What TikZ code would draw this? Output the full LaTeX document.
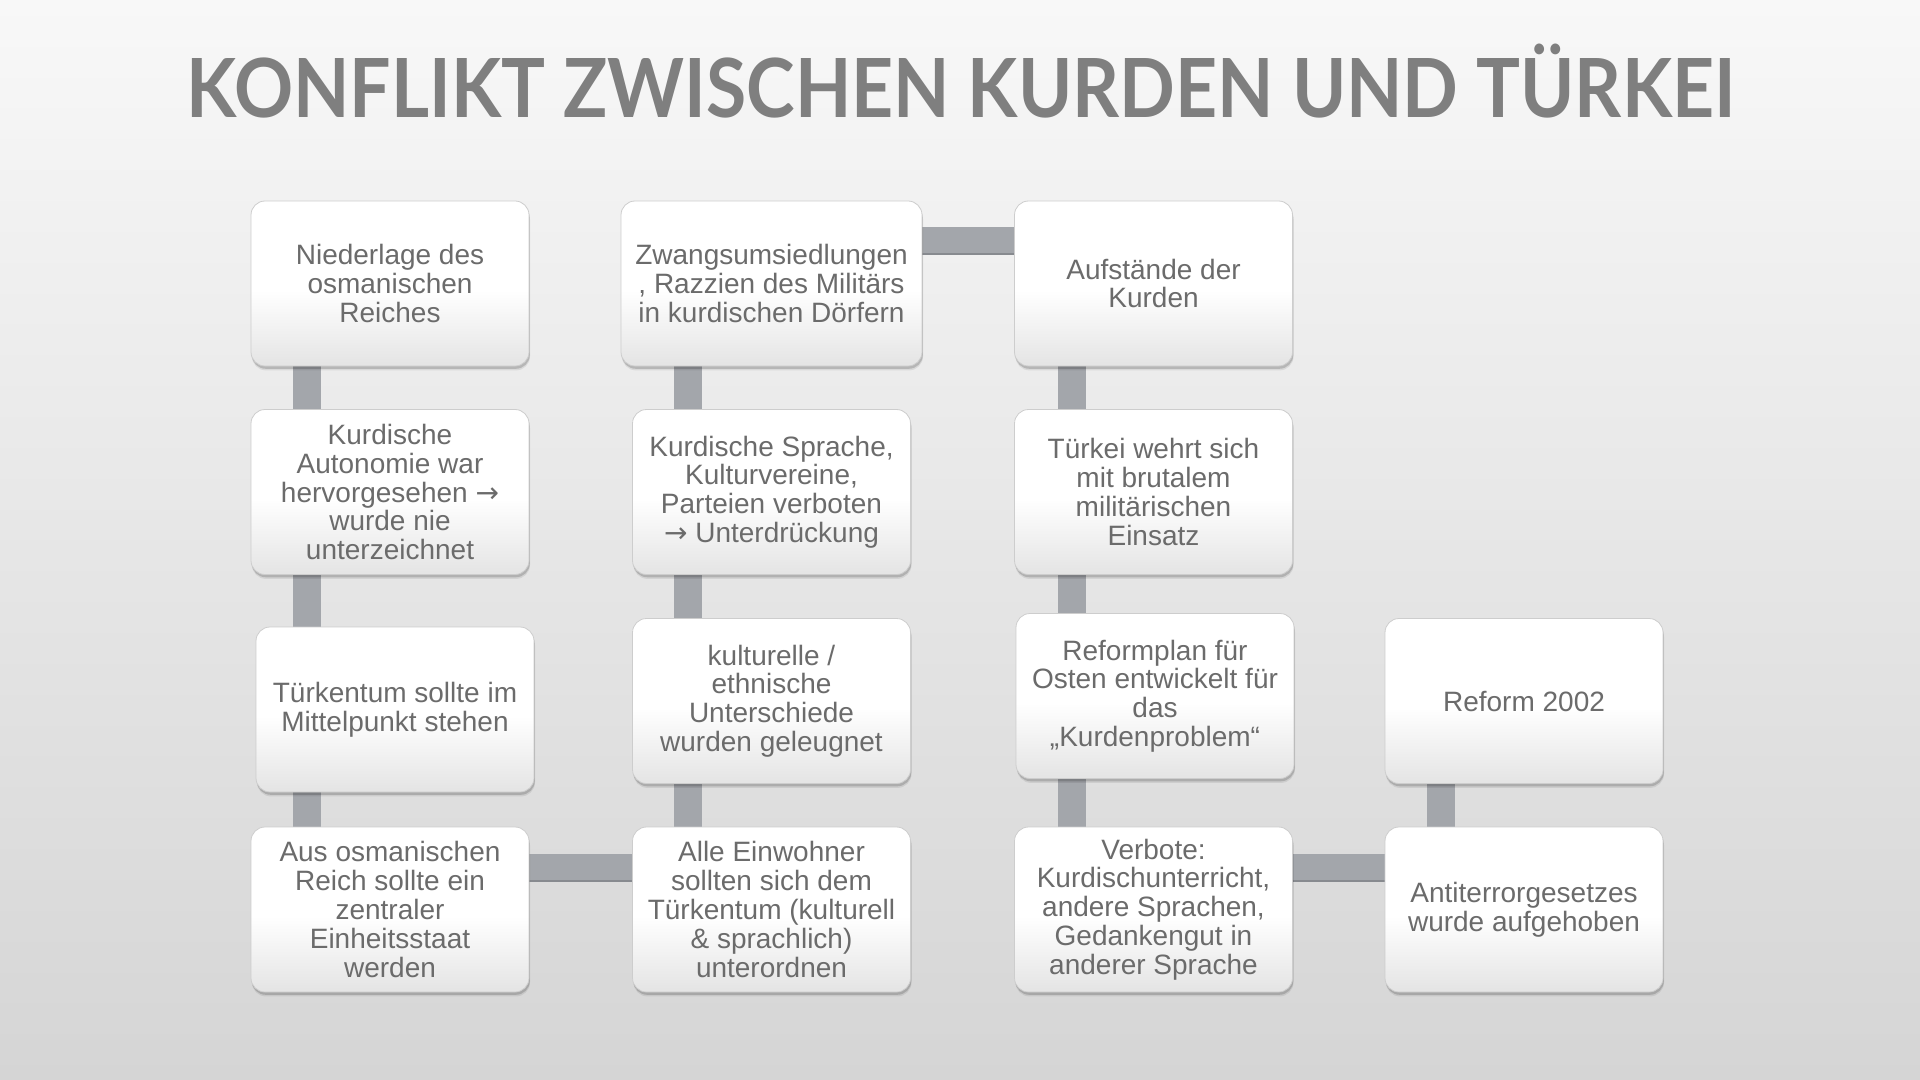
\documentclass[tikz,border=0pt]{standalone}
\usepackage{fontspec}
\setmainfont{Liberation Sans}
\newfontfamily\titlefont{Lato}
\newfontfamily\arrowfont{DejaVu Sans}
\usetikzlibrary{shadows,calc}
\definecolor{bgtop}{HTML}{F8F8F8}
\definecolor{bgbot}{HTML}{D5D5D5}
\definecolor{txt}{HTML}{6B6B6B}
\definecolor{ttl}{HTML}{7F7F7F}
\definecolor{linkcol}{HTML}{A3A6AB}
\definecolor{linkdark}{HTML}{878A8F}
\definecolor{boxbot}{HTML}{E4E4E4}
\definecolor{boxline}{HTML}{CDCDCD}
\pgfdeclareverticalshading{cardshade}{100bp}{color(0bp)=(boxbot); color(25bp)=(boxbot); color(48bp)=(white); color(100bp)=(white)}
\pgfdeclareverticalshading{backshade}{100bp}{color(0bp)=(bgbot); color(25bp)=(bgbot); color(75bp)=(bgtop); color(100bp)=(bgtop)}
\pgfdeclarelayer{back}
\pgfdeclarelayer{links}
\pgfsetlayers{back,links,main}
\newcommand{\arr}{{\arrowfont →}}
\tikzset{
  card/.style={rectangle, rounded corners=7pt, draw=boxline, line width=0.4pt,
    shading=cardshade, minimum width=139pt, minimum height=82.5pt, inner sep=0pt,
    align=center, text=txt, font=\fontsize{14pt}{14.4pt}\selectfont,
    general shadow={shadow xshift=0.5pt, shadow yshift=-2.2pt, fill=black, opacity=0.08},
    general shadow={shadow xshift=0.4pt, shadow yshift=-1.4pt, fill=black, opacity=0.16}},
  link/.style={draw=linkcol, line width=14pt},
  linkedge/.style={draw=linkdark, line width=1pt}
}
\begin{document}
\begin{tikzpicture}[x=0.5pt, y=-0.5pt]
\useasboundingbox (0,0) rectangle (1920,1080);
\begin{pgfonlayer}{back}
\shade[shading=backshade] (0pt,0pt) rectangle (960pt,-540pt);
\end{pgfonlayer}

\node[anchor=south west, inner sep=0pt, text=ttl] (title) at (186,118)
  {\resizebox{774.5pt}{29.5pt}{\titlefont\bfseries\fontsize{40pt}{40pt}\selectfont\raisebox{0pt}[\fontcharht\font`K][0pt]{KONFLIKT ZWISCHEN KURDEN UND TÜRKEI}}};

% column 1
\node[card] (n11) at (390,283.5) {Niederlage des\\osmanischen\\Reiches};
\node[card] (n12) at (390,492) {Kurdische\\Autonomie war\\hervorgesehen \arr\\wurde nie\\unterzeichnet};
\node[card] (n13) at (395,709.5) {Türkentum sollte im\\Mittelpunkt stehen};
\node[card] (n14) at (390,909.5) {Aus osmanischen\\Reich sollte ein\\zentraler\\Einheitsstaat\\werden};
% column 2
\node[card, minimum width=150.5pt] (n21) at (771.5,283.5) {Zwangsumsiedlungen\\, Razzien des Militärs\\in kurdischen Dörfern};
\node[card] (n22) at (771.5,492) {Kurdische Sprache,\\Kulturvereine,\\Parteien verboten\\\arr{} Unterdrückung};
\node[card] (n23) at (771.5,701) {kulturelle /\\ethnische\\Unterschiede\\wurden geleugnet};
\node[card] (n24) at (771.5,909.5) {Alle Einwohner\\sollten sich dem\\Türkentum (kulturell\\\& sprachlich)\\unterordnen};
% column 3
\node[card] (n31) at (1153.5,283.5) {Aufstände der\\Kurden};
\node[card] (n32) at (1153.5,492) {Türkei wehrt sich\\mit brutalem\\militärischen\\Einsatz};
\node[card] (n33) at (1155,696) {Reformplan für\\Osten entwickelt für\\das\\„Kurdenproblem“};
\node[card] (n34) at (1153.5,909.5) {Verbote:\\Kurdischunterricht,\\andere Sprachen,\\Gedankengut in\\anderer Sprache};
% column 4
\node[card] (n43) at (1524,701) {Reform 2002};
\node[card] (n44) at (1524,909.5) {Antiterrorgesetzes\\wurde aufgehoben};

\begin{pgfonlayer}{links}
% vertical links
\draw[link] ([xshift=28pt]n11.west) -- ([xshift=28pt]n12.west);
\draw[link] ([xshift=28pt]n12.west) -- ([xshift=28pt]n12.west |- n13.center);
\draw[link] ([xshift=28pt]n14.west |- n13.center) -- ([xshift=28pt]n14.west);
\draw[link] ([xshift=28pt]n22.west |- n21.center) -- ([xshift=28pt]n22.west);
\draw[link] ([xshift=28pt]n22.west) -- ([xshift=28pt]n23.west);
\draw[link] ([xshift=28pt]n23.west) -- ([xshift=28pt]n24.west);
\draw[link] ([xshift=29pt]n31.west) -- ([xshift=29pt]n32.west);
\draw[link] ([xshift=29pt]n32.west) -- ([xshift=29pt]n32.west |- n33.center);
\draw[link] ([xshift=29pt]n34.west |- n33.center) -- ([xshift=29pt]n34.west);
\draw[link] ([xshift=28pt]n43.west) -- ([xshift=28pt]n44.west);
% horizontal links
\draw[link] ([yshift=21pt]n21.east) -- ([yshift=21pt]n31.west);
\draw[linkedge] ([yshift=14.5pt]n21.east) -- ([yshift=14.5pt]n31.west);
\draw[link] ([yshift=21pt]n14.east) -- ([yshift=21pt]n24.west);
\draw[linkedge] ([yshift=14.5pt]n14.east) -- ([yshift=14.5pt]n24.west);
\draw[link] ([yshift=21pt]n34.east) -- ([yshift=21pt]n44.west);
\draw[linkedge] ([yshift=14.5pt]n34.east) -- ([yshift=14.5pt]n44.west);
\end{pgfonlayer}
\end{tikzpicture}
\end{document}
